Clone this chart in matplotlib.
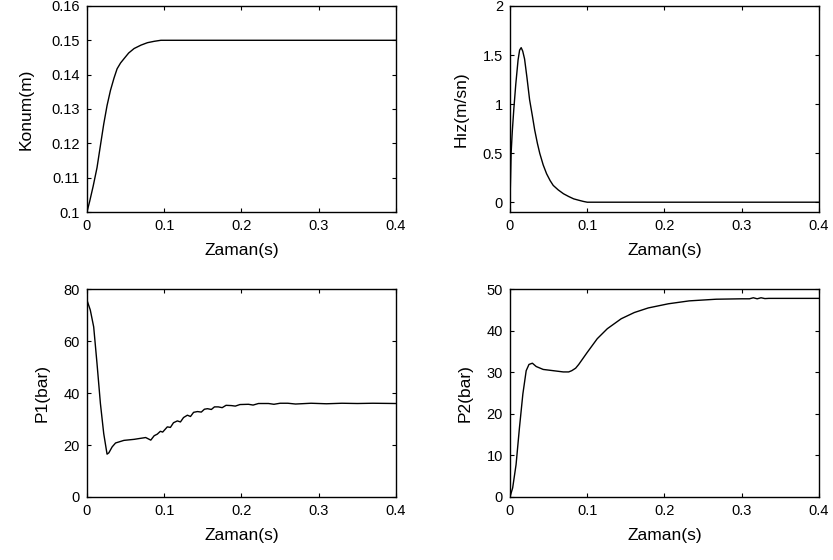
import numpy as np
import matplotlib
matplotlib.use("Agg")
import matplotlib.pyplot as plt
from matplotlib.ticker import FormatStrFormatter

plt.rcParams['font.family'] = ['Liberation Sans', 'DejaVu Sans']

# values
t_konum = [0, 0.0035, 0.008, 0.013, 0.0175, 0.0217, 0.026, 0.0304, 0.035, 0.039, 0.0435,
           0.0478, 0.054, 0.061, 0.07, 0.0783, 0.087, 0.0957, 0.1, 0.2, 0.3, 0.4]
konum = [0.1, 0.1031, 0.1075, 0.1129, 0.1195, 0.1256, 0.1310, 0.1354, 0.1390, 0.1417, 0.1434,
         0.1446, 0.1463, 0.1476, 0.1486, 0.1493, 0.1497, 0.15, 0.15, 0.15, 0.15, 0.15]

t_hiz = [0, 0.0008, 0.0015, 0.003, 0.005, 0.0075, 0.0105, 0.0125, 0.0145, 0.0165, 0.0189,
         0.022, 0.0254, 0.029, 0.032, 0.0355, 0.0386, 0.043, 0.0474, 0.052, 0.056, 0.0625,
         0.0693, 0.076, 0.0825, 0.09, 0.095, 0.1, 0.2, 0.3, 0.4]
hiz = [0.0, 0.25, 0.5, 0.72, 0.95, 1.2, 1.45, 1.55, 1.575, 1.54, 1.46,
       1.27, 1.045, 0.88, 0.736, 0.6, 0.497, 0.38, 0.29, 0.22, 0.171, 0.125,
       0.086, 0.058, 0.034, 0.018, 0.008, 0.0, 0.0, 0.0, 0.0]

t_p1 = [0, 0.0043, 0.0087, 0.013, 0.0174, 0.0217, 0.026, 0.0283, 0.0326, 0.037, 0.0478,
        0.061, 0.076, 0.0826, 0.087, 0.091, 0.095, 0.098, 0.104, 0.108, 0.112, 0.117,
        0.121, 0.125, 0.13, 0.134, 0.138, 0.143, 0.148, 0.152, 0.156, 0.161, 0.165,
        0.17, 0.175, 0.18, 0.187, 0.192, 0.198, 0.209, 0.215, 0.222, 0.235, 0.242,
        0.25, 0.26, 0.27, 0.29, 0.31, 0.33, 0.35, 0.37, 0.4]
p1 = [75.8, 72.0, 65.5, 51.4, 36.0, 24.4, 16.5, 17.0, 19.3, 20.8, 21.8,
      22.2, 22.9, 21.9, 23.6, 24.2, 25.3, 25.0, 27.0, 26.8, 28.6, 29.3,
      28.9, 30.6, 31.5, 31.0, 32.6, 32.9, 32.7, 33.8, 34.0, 33.7, 34.7,
      34.7, 34.4, 35.3, 35.2, 35.0, 35.6, 35.7, 35.4, 36.0, 36.0, 35.7,
      36.1, 36.1, 35.8, 36.1, 35.9, 36.1, 36.0, 36.1, 36.0]

t_p2 = [0, 0.0035, 0.0079, 0.0123, 0.0167, 0.021, 0.0246, 0.029, 0.034, 0.043, 0.056,
        0.069, 0.076, 0.08, 0.085, 0.089, 0.1, 0.113, 0.126, 0.144, 0.161, 0.179,
        0.205, 0.232, 0.267, 0.3, 0.31, 0.315, 0.32, 0.325, 0.33, 0.335, 0.4]
p2 = [0.0, 2.2, 7.8, 16.7, 24.8, 30.4, 31.9, 32.2, 31.4, 30.7, 30.4,
      30.1, 30.1, 30.4, 31.0, 31.9, 34.8, 38.1, 40.5, 42.9, 44.4, 45.5,
      46.5, 47.2, 47.6, 47.7, 47.7, 47.95, 47.7, 47.95, 47.75, 47.8, 47.8]

x_ticks = [0, 0.1, 0.2, 0.3, 0.4]

panels = [
    (t_konum, konum, "Konum(m)", (0.1, 0.16), [0.1, 0.11, 0.12, 0.13, 0.14, 0.15, 0.16]),
    (t_hiz, hiz, "Hız(m/sn)", (-0.1, 2), [0, 0.5, 1, 1.5, 2]),
    (t_p1, p1, "P1(bar)", (0, 80), [0, 20, 40, 60, 80]),
    (t_p2, p2, "P2(bar)", (0, 50), [0, 10, 20, 30, 40, 50]),
]

positions = [
    [0.1044, 0.6214, 0.371, 0.368],
    [0.6122, 0.6214, 0.371, 0.368],
    [0.1044, 0.1125, 0.371, 0.371],
    [0.6122, 0.1125, 0.371, 0.371],
]
ylabel_pads = [13, 10, 10, 10]

fig = plt.figure(figsize=(8.33, 5.6), dpi=100)

for (tx, ty, lab, ylim, yt), pos, lp in zip(panels, positions, ylabel_pads):
    ax = fig.add_axes(pos)
    ax.plot(tx, ty, color='k', lw=1.0)
    ax.set_xlim(0, 0.4)
    ax.set_ylim(*ylim)
    ax.set_xticks(x_ticks)
    ax.set_yticks(yt)
    ax.xaxis.set_major_formatter(FormatStrFormatter('%g'))
    ax.yaxis.set_major_formatter(FormatStrFormatter('%g'))
    ax.tick_params(direction='in', top=True, right=True, length=3, width=0.8,
                   labelsize=10.5, pad=5)
    for sp in ax.spines.values():
        sp.set_linewidth(1.0)
    ax.set_xlabel("Zaman(s)", fontsize=12.5, labelpad=7)
    ax.set_ylabel(lab, fontsize=12.5, labelpad=lp)

fig.savefig("out.png", dpi=100)
